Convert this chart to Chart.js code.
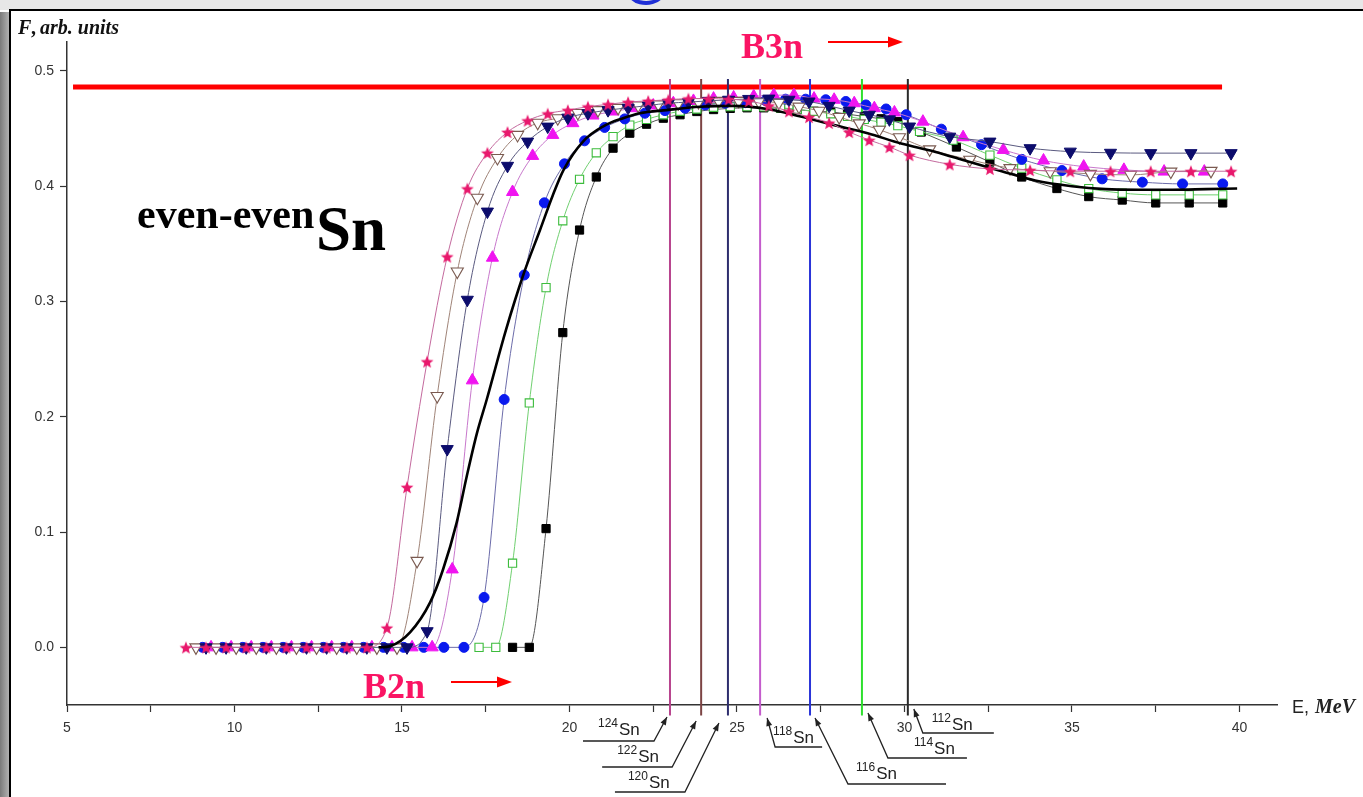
<!DOCTYPE html>
<html><head><meta charset="utf-8">
<script src="https://cdn.jsdelivr.net/npm/chart.js@4.4.0/dist/chart.umd.min.js"></script>
<style>html,body{margin:0;padding:0;background:#fff;overflow:hidden}canvas{display:block}</style>
</head><body><canvas id="c" width="1363" height="797"></canvas>
<script>
// Photoneutron yield F(E) for the even-even tin isotopes, energies in MeV
const e124 = [8.55,9.15,9.75,10.35,10.95,11.55,12.15,12.75,13.35,13.95,14.55,15.15,15.75,16.35,16.95,17.55,18.15,18.75,19.35,19.95,20.55,21.15,21.75,22.35,22.95,23.55,24.15,24.75,25.35,25.95,26.55,27.15,27.75,28.35,28.95,29.55,30.15,31.35,32.55,33.75,34.95,36.15,37.35,38.55,39.75];
const f124 = [0,0,0,0,0,0,0,0,0,0,0.017,0.139,0.248,0.339,0.398,0.429,0.447,0.457,0.463,0.466,0.469,0.471,0.473,0.474,0.475,0.476,0.476,0.4755,0.474,0.470,0.465,0.460,0.455,0.447,0.440,0.434,0.427,0.419,0.415,0.414,0.413,0.413,0.413,0.413,0.413];

const e122 = [8.85,9.45,10.05,10.65,11.25,11.85,12.45,13.05,13.65,14.25,14.85,15.45,16.05,16.65,17.25,17.85,18.45,19.05,19.65,20.25,20.85,21.45,22.05,22.65,23.25,23.85,24.45,25.05,25.65,26.25,26.85,27.45,28.05,28.65,29.25,29.85,30.75,31.95,33.15,34.35,35.55,36.75,37.95,39.15];
const f122 = [0,0,0,0,0,0,0,0,0,0,0,0.075,0.218,0.326,0.390,0.4245,0.4445,0.455,0.459,0.4635,0.466,0.468,0.470,0.471,0.472,0.473,0.474,0.474,0.4735,0.4725,0.469,0.4655,0.460,0.4545,0.449,0.4425,0.432,0.423,0.4157,0.413,0.4107,0.4098,0.4127,0.4133];

const e120 = [9.15,9.75,10.35,10.95,11.55,12.15,12.75,13.35,13.95,14.55,15.15,15.75,16.35,16.95,17.55,18.15,18.75,19.35,19.95,20.55,21.15,21.75,22.35,22.95,23.55,24.15,24.75,25.35,25.95,26.55,27.15,27.75,28.35,28.95,29.55,30.15,31.35,32.55,33.75,34.95,36.15,37.35,38.55,39.75];
const f120 = [0,0,0,0,0,0,0,0,0,0,0,0.014,0.172,0.3015,0.378,0.4177,0.4387,0.4517,0.4595,0.4633,0.466,0.468,0.470,0.472,0.473,0.474,0.475,0.4757,0.476,0.475,0.4735,0.4697,0.4656,0.462,0.458,0.4518,0.443,0.4387,0.433,0.430,0.429,0.4287,0.4287,0.4287];

const e118 = [9.3,9.9,10.5,11.1,11.7,12.3,12.9,13.5,14.1,14.7,15.3,15.9,16.5,17.1,17.7,18.3,18.9,19.5,20.1,20.7,21.3,21.9,22.5,23.1,23.7,24.3,24.9,25.5,26.1,26.7,27.3,27.9,28.5,29.1,29.7,30.55,31.75,32.95,34.15,35.35,36.55,37.75,38.95];
const f118 = [0,0,0,0,0,0,0,0,0,0,0,0,0.0676,0.2316,0.338,0.395,0.4263,0.4445,0.4547,0.4613,0.4648,0.4677,0.470,0.472,0.474,0.476,0.477,0.478,0.479,0.479,0.476,0.475,0.472,0.4677,0.464,0.456,0.4425,0.4315,0.4223,0.417,0.4142,0.4127,0.4127];

const e116 = [9.05,9.65,10.25,10.85,11.45,12.05,12.65,13.25,13.85,14.45,15.05,15.65,16.25,16.85,17.45,18.05,18.65,19.25,19.85,20.45,21.05,21.65,22.25,22.85,23.45,24.05,24.65,25.25,25.85,26.45,27.05,27.65,28.25,28.85,29.45,30.05,31.1,32.3,33.5,34.7,35.9,37.1,38.3,39.5];
const f116 = [0,0,0,0,0,0,0,0,0,0,0,0,0,0,0.0433,0.215,0.323,0.3856,0.4194,0.4394,0.451,0.4584,0.4633,0.4656,0.4677,0.4705,0.472,0.4725,0.4743,0.4755,0.4755,0.475,0.4735,0.4705,0.467,0.462,0.4495,0.436,0.4233,0.4136,0.4064,0.4035,0.402,0.402];

const e114 = [17.3,17.8,18.3,18.8,19.3,19.8,20.3,20.8,21.3,21.8,22.3,22.8,23.3,23.8,24.3,24.8,25.3,25.8,26.3,26.8,27.3,27.8,28.3,28.8,29.3,29.8,30.45,31.45,32.55,33.5,34.55,35.5,36.5,37.5,38.5,39.5];
const f114 = [0,0,0.073,0.212,0.312,0.370,0.406,0.429,0.443,0.453,0.458,0.462,0.465,0.467,0.4685,0.469,0.469,0.4688,0.468,0.4668,0.465,0.4628,0.4605,0.458,0.4555,0.4525,0.4475,0.440,0.427,0.4157,0.4055,0.398,0.394,0.3925,0.3925,0.3925];

const e112 = [18.3,18.8,19.3,19.8,20.3,20.8,21.3,21.8,22.3,22.8,23.3,23.8,24.3,24.8,25.3,25.8,26.3,26.8,27.3,27.8,28.3,28.8,29.3,29.8,30.5,31.55,32.55,33.5,34.55,35.5,36.5,37.5,38.5,39.5];
const f112 = [0,0,0.103,0.273,0.362,0.408,0.433,0.446,0.4538,0.459,0.462,0.4648,0.4665,0.4675,0.468,0.468,0.4675,0.4665,0.465,0.4645,0.4625,0.4605,0.4585,0.456,0.447,0.434,0.421,0.408,0.398,0.391,0.388,0.3855,0.3855,0.3855];

// calculated curve (thick black line)
const eCalc = [14.3,14.64,15.24,15.84,16.23,16.63,16.93,17.23,17.53,18.1,18.62,19.12,19.5,19.82,20.41,21.01,21.6,22.1,22.9,23.9,24.9,25.9,26.9,27.9,28.9,29.9,30.9,31.9,32.9,33.9,35.0,36.0,37.0,38.0,39.0,39.93];
const fCalc = [0,0.001,0.013,0.039,0.068,0.108,0.148,0.185,0.215,0.275,0.323,0.362,0.392,0.414,0.439,0.452,0.459,0.4633,0.466,0.469,0.4697,0.467,0.4604,0.453,0.446,0.437,0.430,0.4214,0.413,0.405,0.400,0.3975,0.397,0.397,0.3975,0.398];

// three-neutron separation thresholds per isotope
const isoNames  = ['124','122','120','118','116','114','112'];
const isoB3n    = [23.0, 23.93, 24.73, 25.69, 27.18, 28.73, 30.10];
const isoColors = ['#b8448e','#7c4444','#2e2e6e','#c45ccc','#2a34d8','#2ee02e','#2a2a2a'];
const limitLevel = 0.486;
const limitRange = [5.18, 39.48];

const xTickValues = [5,7.5,10,12.5,15,17.5,20,22.5,25,27.5,30,32.5,35,37.5,40];
const yTickValues = [0,0.1,0.2,0.3,0.4,0.5];

const SERIF = '"Liberation Serif","Times New Roman",serif';
const SANS = '"Liberation Sans",Arial,sans-serif';

function starImage(size, fill) {
  const c = document.createElement('canvas');
  c.width = c.height = size;
  const g = c.getContext('2d');
  const r = size / 2, ri = r * 0.42;
  g.beginPath();
  for (let i = 0; i < 10; i++) {
    const a = -Math.PI / 2 + i * Math.PI / 5;
    const rr = i % 2 ? ri : r - 0.3;
    g.lineTo(r + rr * Math.cos(a), r + 0.8 + rr * Math.sin(a));
  }
  g.closePath();
  g.fillStyle = fill;
  g.fill();
  return c;
}

function series(E, F, o) {
  return Object.assign({
    data: E.map((x, i) => ({x, y: F[i]})),
    borderWidth: 1,
    cubicInterpolationMode: 'monotone',
    pointBorderWidth: 1,
    fill: false
  }, o);
}

const datasets = [
  series(e124, f124, {borderColor:'#c46a9e', pointStyle: starImage(14, '#e8186c'), pointRadius: 6}),
  series(eCalc, fCalc, {borderColor:'#000', borderWidth: 2.6, pointRadius: 0}),
  series(e120, f120, {borderColor:'#5a5a80', pointStyle:'triangle', pointRotation:180, pointRadius:7, pointBackgroundColor:'#0c0c6c', pointBorderColor:'#0c0c6c'}),
  series(e122, f122, {borderColor:'#a08478', pointStyle:'triangle', pointRotation:180, pointRadius:7, pointBackgroundColor:'#fff', pointBorderColor:'#7a5a50', pointBorderWidth:1.1}),
  series(e118, f118, {borderColor:'#c878cc', pointStyle:'triangle', pointRadius:7, pointBackgroundColor:'#f014f0', pointBorderColor:'#f014f0'}),
  series(e116, f116, {borderColor:'#6c6caa', pointStyle:'circle', pointRadius:5, pointBackgroundColor:'#0a1aee', pointBorderColor:'#0a1aee'}),
  series(e114, f114, {borderColor:'#70d070', pointStyle:'rect', pointRadius:5.8, pointBackgroundColor:'#fff', pointBorderColor:'#3cbc3c', pointBorderWidth:1.1}),
  series(e112, f112, {borderColor:'#555', pointStyle:'rect', pointRadius:5.8, pointBackgroundColor:'#000', pointBorderColor:'#000'})
];

// threshold markers, drawn underneath the curves
isoB3n.forEach((e, i) => {
  datasets.push({
    data: [{x: e, y: -0.059}, {x: e, y: 0.493}],
    borderColor: isoColors[i], borderWidth: 2, pointRadius: 0,
    tension: 0, clip: false
  });
});
datasets.push({
  data: [{x: limitRange[0], y: limitLevel}, {x: limitRange[1], y: limitLevel}],
  borderColor: '#ff0000', borderWidth: 5, pointRadius: 0, tension: 0, clip: false
});

// page frame behind the chart
const framePlugin = {
  id: 'frame',
  beforeDraw(chart) {
    const g = chart.ctx, W = chart.width, H = chart.height;
    g.save();
    g.fillStyle = '#fff';
    g.fillRect(0, 0, W, H);
    g.fillStyle = '#e7e7e7';
    g.fillRect(0, 0, W, 10);
    const lg = g.createLinearGradient(0, 0, 10, 0);
    lg.addColorStop(0, '#7a7a7a');
    lg.addColorStop(1, '#b8b8b8');
    g.fillStyle = lg;
    g.fillRect(0, 12, 10, H - 12);
    // slide title glyph peeking in at the top
    g.strokeStyle = '#1f2fd6';
    g.lineWidth = 4;
    g.beginPath();
    g.ellipse(646, -7, 16, 10, 0, 0.12 * Math.PI, 0.88 * Math.PI);
    g.stroke();
    g.strokeStyle = '#000';
    g.lineWidth = 2;
    g.beginPath();
    g.moveTo(10, H);
    g.lineTo(10, 10);
    g.lineTo(W, 10);
    g.stroke();
    g.restore();
  }
};

function arrow(g, x1, y1, x2, y2, len, half) {
  const a = Math.atan2(y2 - y1, x2 - x1);
  g.beginPath();
  g.moveTo(x2, y2);
  g.lineTo(x2 - len * Math.cos(a) + half * Math.sin(a), y2 - len * Math.sin(a) - half * Math.cos(a));
  g.lineTo(x2 - len * Math.cos(a) - half * Math.sin(a), y2 - len * Math.sin(a) + half * Math.cos(a));
  g.closePath();
  g.fill();
}

// callout geometry: offsets from each threshold line (px) and from the axis bottom
const callouts = [
  {tip:[-3,12], elbow:[-16,36], end:-87,  text:[-72,30]},
  {tip:[-5,16], elbow:[-29,62], end:-99,  text:[-84,57]},
  {tip:[-9,18], elbow:[-43,87], end:-113, text:[-100,83]},
  {tip:[7,13],  elbow:[15,42],  end:62,   text:[13,38]},
  {tip:[5,13],  elbow:[38,79],  end:136,  text:[46,74]},
  {tip:[6,8],   elbow:[26,53],  end:105,  text:[52,49]},
  {tip:[6,4],   elbow:[15,28],  end:86,   text:[24,25]}
];

const textPlugin = {
  id: 'texts',
  afterDraw(chart) {
    const g = chart.ctx, xs = chart.scales.x, b = chart.chartArea.bottom;
    g.save();
    g.textBaseline = 'alphabetic';
    g.textAlign = 'left';
    g.fillStyle = '#111';
    g.font = `italic bold 20px ${SERIF}`;
    g.fillText('F', 18, 34);
    g.font = `bold 20px ${SERIF}`;
    g.fillText(',', 31, 34);
    g.font = `italic bold 20px ${SERIF}`;
    g.fillText('arb. units', 40, 34);

    g.fillStyle = '#222';
    g.font = `18px ${SANS}`;
    g.fillText('E,', 1292, 713);
    g.font = `italic bold 20px ${SERIF}`;
    g.fillText('MeV', 1315, 713);

    g.fillStyle = '#000';
    g.font = `bold 42px ${SERIF}`;
    g.fillText('even-even', 137, 228);
    g.font = `bold 63px ${SERIF}`;
    g.fillText('Sn', 316, 250);

    g.fillStyle = '#fa1464';
    g.font = `bold 36px ${SERIF}`;
    g.fillText('B3n', 741, 58);
    g.fillText('B2n', 363, 698);
    g.strokeStyle = '#ff0000';
    g.fillStyle = '#ff0000';
    g.lineWidth = 2;
    [[828, 903, 42], [451, 512, 682]].forEach(([x1, x2, y]) => {
      g.beginPath();
      g.moveTo(x1, y);
      g.lineTo(x2 - 10, y);
      g.stroke();
      arrow(g, x1, y, x2, y, 15, 5.5);
    });

    g.strokeStyle = '#222';
    g.fillStyle = '#222';
    g.lineWidth = 1.3;
    isoB3n.forEach((e, i) => {
      const X = xs.getPixelForValue(e), c = callouts[i];
      const tx = X + c.tip[0], ty = b + c.tip[1];
      const ex = X + c.elbow[0], ey = b + c.elbow[1];
      g.beginPath();
      g.moveTo(X + c.end, ey);
      g.lineTo(ex, ey);
      g.lineTo(tx, ty);
      g.stroke();
      arrow(g, ex, ey, tx, ty, 8, 3);
      const lx = X + c.text[0], ly = b + c.text[1];
      g.font = `12px ${SANS}`;
      g.fillText(isoNames[i], lx, ly - 8);
      const w = g.measureText(isoNames[i]).width;
      g.font = `17px ${SANS}`;
      g.fillText('Sn', lx + w + 1, ly);
    });
    g.restore();
  }
};

new Chart(document.getElementById('c'), {
  type: 'line',
  data: {datasets},
  options: {
    responsive: false,
    animation: false,
    devicePixelRatio: 1,
    layout: {padding: {top: 42, right: 86, left: 0, bottom: 0}},
    plugins: {legend: {display: false}, tooltip: {enabled: false}},
    elements: {line: {borderJoinStyle: 'round'}},
    scales: {
      x: {
        type: 'linear', min: 5, max: 41.12,
        afterBuildTicks: s => { s.ticks = xTickValues.map(v => ({value: v})); },
        afterFit: s => { s.height = 92; },
        ticks: {
          autoSkip: false, maxRotation: 0, padding: 8,
          color: '#333', font: {family: SANS, size: 14},
          callback: v => (v % 5 === 0 ? String(v) : '')
        },
        grid: {drawOnChartArea: false, drawTicks: true, tickLength: 7, tickColor: '#333', tickWidth: 1.2},
        border: {display: true, color: '#333', width: 1.5}
      },
      y: {
        type: 'linear', min: -0.05, max: 0.5251,
        afterBuildTicks: s => { s.ticks = yTickValues.map(v => ({value: v})); },
        afterFit: s => { s.width = 67; },
        ticks: {
          padding: 6, color: '#333', font: {family: SANS, size: 14},
          callback: v => v.toFixed(1)
        },
        grid: {drawOnChartArea: false, drawTicks: true, tickLength: 7, tickColor: '#333', tickWidth: 1.2},
        border: {display: true, color: '#333', width: 1.5}
      }
    }
  },
  plugins: [framePlugin, textPlugin]
});
</script>
</body></html>
